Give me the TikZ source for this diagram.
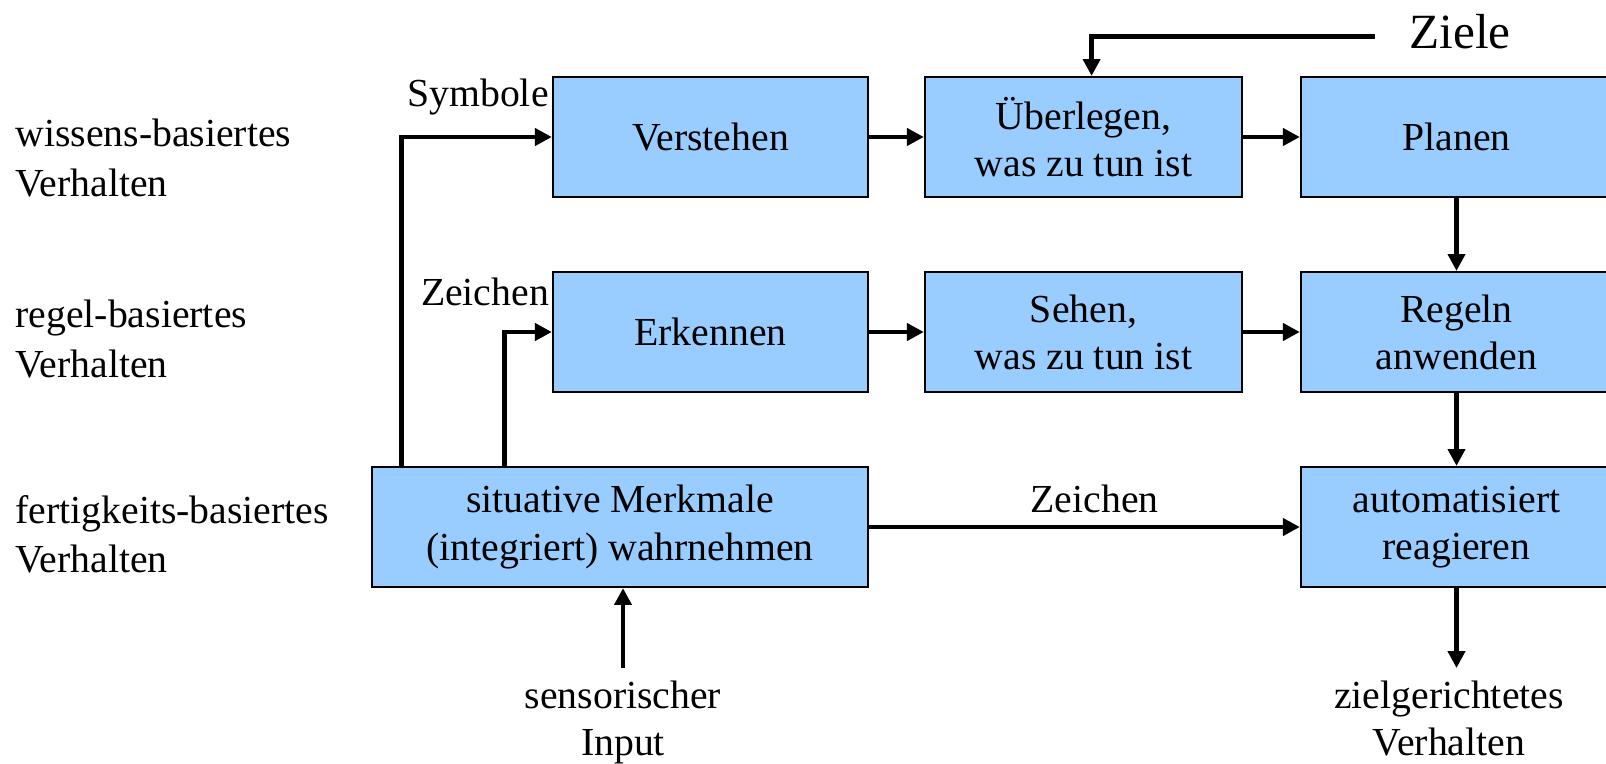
\documentclass[tikz,border=0pt]{standalone}
\usepackage{fontspec}
\setmainfont{Liberation Serif}
\usetikzlibrary{arrows.meta,positioning}
\definecolor{boxfill}{RGB}{153,204,255}

\begin{document}
\begin{tikzpicture}[x=0.01cm,y=-0.01cm,
  box/.style={draw=black,fill=boxfill,line width=0.6pt,minimum height=1.2cm,align=center,font=\fontsize{11.3}{13.4}\selectfont},
  lbl/.style={align=center,font=\fontsize{11.3}{13.4}\selectfont},
  side/.style={align=left,anchor=west,font=\fontsize{11.3}{14}\selectfont},
  arr/.style={line width=1.4pt,-{Triangle[length=4.8pt,width=4.8pt]}}]
\useasboundingbox (0,0) rectangle (1606,763);
\clip (0,0) rectangle (1606,763);

% Ebenen
\node[side] (lw) at (3,158) {wissens-basiertes\\Verhalten};
\node[side] (lr) at (3,339) {regel-basiertes\\Verhalten};
\node[side] (lf) at (3,534) {fertigkeits-basiertes\\Verhalten};

% Kaesten
\node[box,minimum width=3.15cm] (V) at (710.5,137) {Verstehen};
\node[box,minimum width=3.17cm] (U) at (1083.5,137) {Überlegen,\\was zu tun ist};
\node[box,minimum width=3.11cm] (P) at (1456.5,137) {Planen};
\node[box,minimum width=3.15cm] (E) at (710.5,332) {Erkennen};
\node[box,minimum width=3.17cm] (S) at (1083.5,332) {Sehen,\\was zu tun ist};
\node[box,minimum width=3.11cm] (R) at (1456.5,332) {Regeln\\anwenden};
\node[box,minimum width=4.96cm] (M) at (620,527) {situative Merkmale\\(integriert) wahrnehmen};
\node[box,minimum width=3.11cm] (A) at (1456.5,527) {automatisiert\\reagieren};

\node[lbl,font=\fontsize{14}{16}\selectfont,inner xsep=9.7pt] (zi) at (1460,32) {Ziele};
\node[lbl,anchor=north] (si) at (623,668) {sensorischer\\Input};
\node[lbl,anchor=north] (zv) at (1449,668) {zielgerichtetes\\Verhalten};

% Verbindungen
\draw[arr] ([xshift=0.31cm]M.north west) |- (V.west);
\draw[arr] ([xshift=1.34cm]M.north west) |- (E.west);
\node[lbl] (sy) at (478,97) {Symbole};
\node[lbl] (ze) at (485,292) {Zeichen};
\draw[arr] (V) -- (U);
\draw[arr] (U) -- (P);
\draw[arr] (E) -- (S);
\draw[arr] (S) -- (R);
\draw[arr] (P) -- (R);
\draw[arr] (R) -- (A);
\draw[arr] (M) -- node[lbl,above,xshift=0.1cm] {Zeichen} (A);
\draw[arr] ([yshift=-1.2pt]zi.west) -| ([xshift=2.3pt]U.north);
\draw[arr] (si.north) -- (si.north |- M.south);
\draw[arr] (A.south) -- (A.south |- zv.north);
\end{tikzpicture}
\end{document}
